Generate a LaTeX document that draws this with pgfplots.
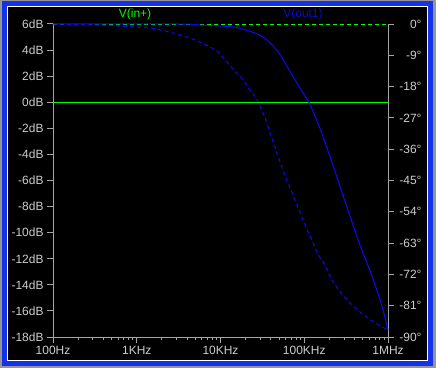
\documentclass[border=0pt]{standalone}
\usepackage{pgfplots}
\pgfplotsset{compat=1.18}
\usepackage{fontspec}
\setmainfont{Liberation Sans}
\definecolor{lbl}{RGB}{205,205,205}
\definecolor{axl}{RGB}{165,165,165}
\definecolor{frgray}{RGB}{150,150,150}
\definecolor{frblue}{RGB}{20,50,235}
\definecolor{ltblue}{RGB}{10,10,245}
\definecolor{txtblue}{RGB}{10,10,210}
\definecolor{ltgreen}{RGB}{0,255,0}
\pgfplotsset{
  ltstyle/.style={
    scale only axis, width=335bp, height=313bp,
    at={(53bp,31bp)}, anchor=south west,
    xmin=100, xmax=1000000,
    clip=false,
    axis line style={-, axl, line width=1bp},
    tick style={axl, line width=1bp},
    major tick length=6bp, minor tick length=3bp,
    tick align=outside,
    ticklabel style={lbl, font=\fontsize{12}{14}\selectfont},
  }
}
\begin{document}
\begin{tikzpicture}[x=1bp,y=1bp]
\useasboundingbox (0,0) rectangle (436,368);
\fill[frgray] (0,0) rectangle (436,368);
\fill[frblue] (2,2) rectangle (433,367);
\fill[white] (7,7) rectangle (428,362);
\fill[black] (8,8) rectangle (427,361);
% phase axis (right)
\begin{semilogxaxis}[ltstyle,
  axis x line=none, axis y line*=right,
  ymin=-90, ymax=0,
  ytick={-90,-81,-72,-63,-54,-45,-36,-27,-18,-9,0},
  yticklabels={-90°,-81°,-72°,-63°,-54°,-45°,-36°,-27°,-18°,-9°,0°},
  yticklabel style={anchor=west, text width=24bp, align=right},
]
\addplot[ltgreen, line width=1bp, dash pattern=on 4bp off 3bp] coordinates {(100,0) (1000000,0)};
\addplot[ltblue, line width=1bp, dash pattern=on 4bp off 3bp, smooth, tension=0.4] coordinates {
(100,0) (364,-0.3) (1439,-1.15) (1895,-1.73) (2495,-2.3) (3283,-3.16) (4325,-4.03) (5690,-5.18) (7496,-6.6) (9085,-7.8) (11320,-10.26) (14900,-13.6) (17900,-15.5) (21500,-18.4) (25800,-20.8) (28300,-22.7) (34000,-27) (39000,-31.3) (55700,-42) (77600,-50.6) (102000,-57.8) (123000,-62.1) (147000,-66.4) (177000,-69.3) (213000,-73.6) (267000,-76.96) (352000,-80.2) (485000,-83.2) (667000,-85.6) (1000000,-88)
};
\end{semilogxaxis}
% magnitude axis (left)
\begin{semilogxaxis}[ltstyle,
  axis x line*=bottom, axis y line*=left,
  ymin=-18, ymax=6,
  ytick={-18,-16,-14,-12,-10,-8,-6,-4,-2,0,2,4,6},
  yticklabels={-18dB,-16dB,-14dB,-12dB,-10dB,-8dB,-6dB,-4dB,-2dB,0dB,2dB,4dB,6dB},
  xtick={100,1000,10000,100000,1000000},
  xticklabels={100Hz,1KHz,10KHz,100KHz,1MHz},
  minor xtick={200,300,400,500,600,700,800,900,2000,3000,4000,5000,6000,7000,8000,9000,20000,30000,40000,50000,60000,70000,80000,90000,200000,300000,400000,500000,600000,700000,800000,900000},
  minor ytick={},
]
\addplot[ltgreen, line width=1bp] coordinates {(100,0) (1000000,0)};
\addplot[ltblue, line width=1bp, smooth, tension=0.5] coordinates {
(100,6) (3109,6) (5690,5.92) (11320,5.82) (14900,5.75) (19600,5.56) (25800,5.31) (31000,5.06) (37200,4.67) (44700,4.16) (51300,3.65) (58900,3.01) (67600,2.37) (77600,1.73) (88900,1.09) (102000,0.46) (115000,-0.06) (154000,-2.0) (213000,-4.56) (280000,-6.86) (359000,-8.9) (463000,-10.95) (638000,-13.25) (841000,-15.55) (1000000,-17.5)
};
\end{semilogxaxis}
\node[ltgreen, font=\fontsize{12}{14}\selectfont] at (135,354) {V(in+)};
\node[txtblue, font=\fontsize{12}{14}\selectfont] at (303,354) {V(out1)};
\end{tikzpicture}
\end{document}
